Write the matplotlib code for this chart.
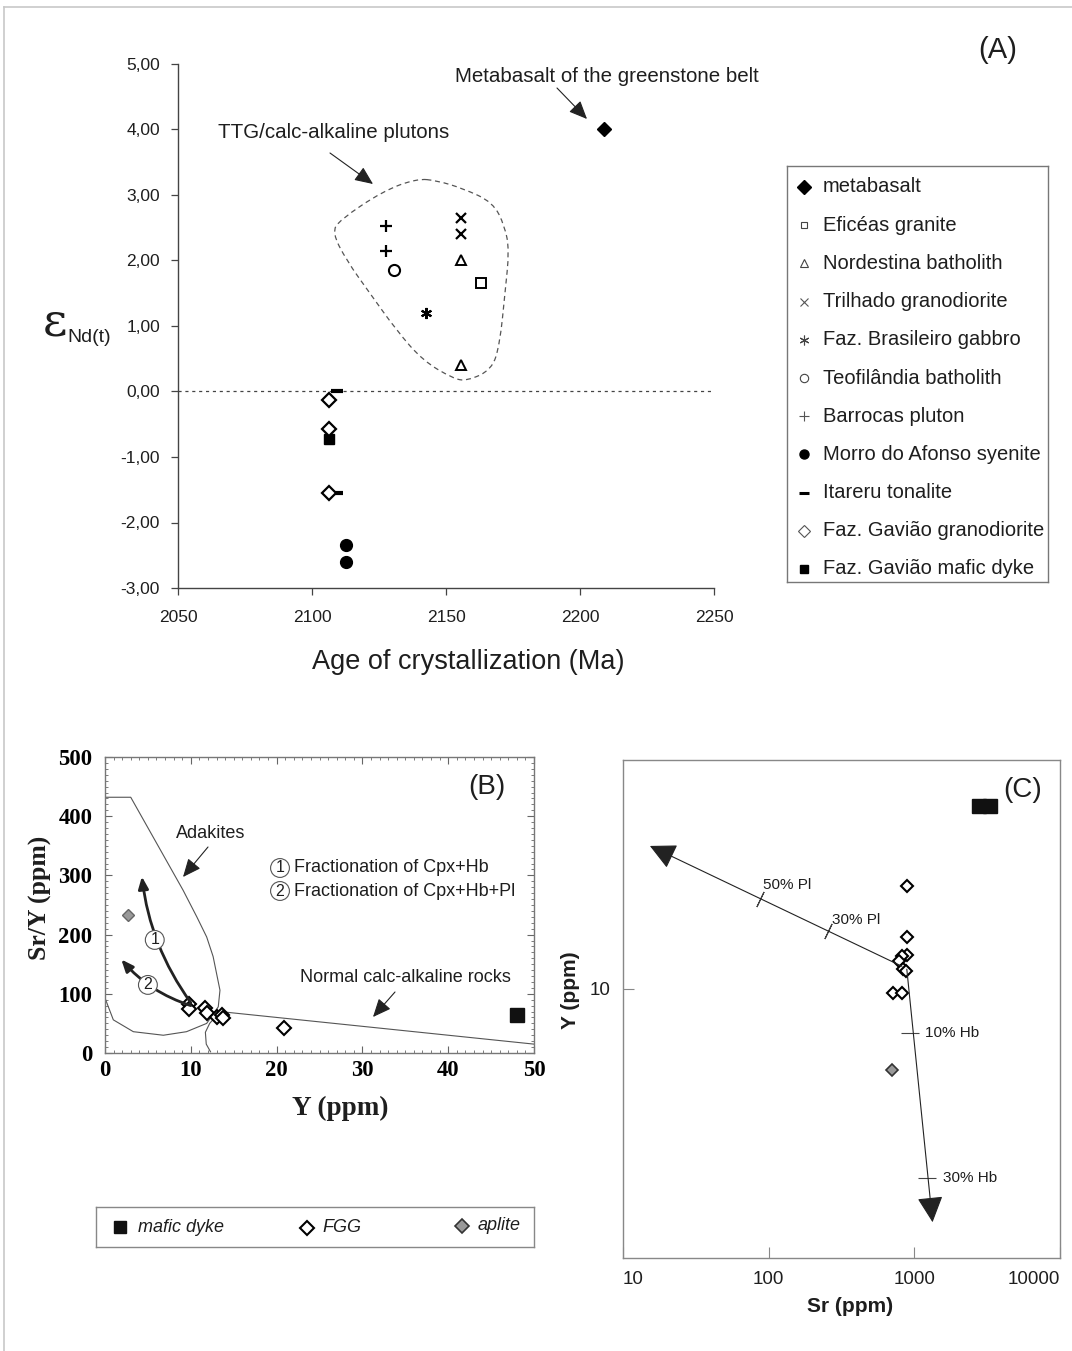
import matplotlib
matplotlib.use('Agg')
import matplotlib.pyplot as plt
from matplotlib.patches import PathPatch
from matplotlib.path import Path
from matplotlib.lines import Line2D
from matplotlib.ticker import FixedLocator, MultipleLocator, FuncFormatter, NullLocator

W, H = 1072, 1351
plt.rcParams['font.family'] = ['Liberation Sans', 'DejaVu Sans']
TXT = '#1e1e1e'

# ---------------- Panel A data: age (Ma) vs eps Nd(t) ----------------
metabasalt_age = [2209.0]; metabasalt_eps = [4.00]
eficeas_age = [2163.0]; eficeas_eps = [1.65]
nordestina_age = [2155.5, 2155.5]; nordestina_eps = [2.00, 0.40]
trilhado_age = [2155.5, 2155.5]; trilhado_eps = [2.65, 2.40]
brasileiro_age = [2142.5]; brasileiro_eps = [1.20]
teofilandia_age = [2130.5]; teofilandia_eps = [1.85]
barrocas_age = [2127.5, 2127.5]; barrocas_eps = [2.53, 2.14]
morro_age = [2112.5, 2112.5]; morro_eps = [-2.35, -2.60]
itareru_age = [2109.5, 2109.5]; itareru_eps = [0.00, -1.55]
fgg_age = [2106.5, 2106.5, 2106.5]; fgg_eps = [-0.13, -0.58, -1.55]
dyke_age = [2106.5]; dyke_eps = [-0.72]

env_age = [2139.1, 2126.5, 2110.4, 2107.5, 2112.9, 2121.6, 2131.6, 2141.4, 2152.6,
           2157.7, 2167.1, 2170.1, 2172.0, 2173.6, 2172.0, 2167.5, 2156.3, 2146.6]
env_eps = [3.25, 3.06, 2.62, 2.43, 2.00, 1.50, 0.93, 0.47, 0.20,
           0.16, 0.33, 0.73, 1.50, 2.15, 2.52, 2.89, 3.10, 3.22]

legendA_labels = ['metabasalt', 'Eficéas granite', 'Nordestina batholith', 'Trilhado granodiorite',
                  'Faz. Brasileiro gabbro', 'Teofilândia batholith', 'Barrocas pluton',
                  'Morro do Afonso syenite', 'Itareru tonalite', 'Faz. Gavião granodiorite',
                  'Faz. Gavião mafic dyke']

# ---------------- Panel B data: Y vs Sr/Y ----------------
B_dyke_Y = [48.0]; B_dyke_SrY = [64.0]
B_fgg_Y = [9.8, 9.75, 11.7, 11.85, 13.0, 13.6, 13.8, 20.9]
B_fgg_SrY = [83.0, 74.0, 75.5, 67.0, 61.5, 64.0, 58.5, 43.0]
B_aplite_Y = [2.7]; B_aplite_SrY = [233.0]
adakite_Y = [0, 3.0, 9.1, 10.7, 11.85, 12.6, 13.4, 13.2, 11.85, 9.5, 6.8, 3.3, 0.97, 0.1, 0]
adakite_SrY = [432, 432, 275, 230, 196, 163, 106, 78, 50, 36, 30, 36, 56, 89, 93]
normal_Y = [50, 13.4, 12.2, 11.7, 11.8, 12.3]
normal_SrY = [15, 70, 50, 35, 15, 2]
frac1_Y = [10.0, 4.3]; frac1_SrY = [85, 298]
frac2_Y = [10.0, 1.9]; frac2_SrY = [80, 158]

# ---------------- Panel C data: Sr vs Y (log-log) ----------------
C_fgg_Sr = [894, 894, 894, 819, 787, 832, 875, 716, 819]
C_fgg_Y = [20.6, 14.35, 12.7, 12.6, 12.1, 11.45, 11.3, 9.67, 9.67]
C_aplite_Sr = [699]; C_aplite_Y = [5.65]
C_dyke_Sr = [2780, 3300]; C_dyke_Y = [36.2, 36.2]
vec_start = (822, 11.7)
pl_end = (15.3, 27.3)
hb_end = (1334, 1.93)
pl_marks_Sr = [87.2, 256.6]; pl_marks_Y = [18.8, 15.0]; pl_marks_lab = ['50% Pl', '30% Pl']
hb_marks_Sr = [933, 1227]; hb_marks_Y = [7.32, 2.64]; hb_marks_lab = ['10% Hb', '30% Hb']


def fx(x):
    return x / W


def fy(y):
    return 1 - y / H


def ax_rect(x0, y0, x1, y1):
    return [fx(x0), fy(y1), (x1 - x0) / W, (y1 - y0) / H]


def smooth_closed_path(xs, ys):
    """Closed quadratic B-spline path using the given points as control points."""
    pts = list(zip(xs, ys))
    n = len(pts)
    mids = [((pts[i][0] + pts[(i + 1) % n][0]) / 2, (pts[i][1] + pts[(i + 1) % n][1]) / 2)
            for i in range(n)]
    verts = [mids[-1]]
    codes = [Path.MOVETO]
    for i in range(n):
        verts += [pts[i], mids[i]]
        codes += [Path.CURVE3, Path.CURVE3]
    return Path(verts, codes)


fig = plt.figure(figsize=(W / 100, H / 100), dpi=100)
fig.patch.set_facecolor('white')

# outer frame lines (top & left)
fig.add_artist(Line2D([fx(3.5), fx(3.5)], [0, fy(7)], color='#c8c8c8', lw=1.2))
fig.add_artist(Line2D([fx(3.5), 1], [fy(7), fy(7)], color='#c8c8c8', lw=1.2))

# ============================ Panel A ============================
axA = fig.add_axes(ax_rect(178, 64, 714, 588))
axA.set_xlim(2050, 2250)
axA.set_ylim(-3, 5)
for s in ['top', 'right']:
    axA.spines[s].set_visible(False)
for s in ['left', 'bottom']:
    axA.spines[s].set_color('#444')
    axA.spines[s].set_linewidth(1.0)
axA.xaxis.set_major_locator(FixedLocator([2050, 2100, 2150, 2200, 2250]))
axA.yaxis.set_major_locator(MultipleLocator(1))
axA.yaxis.set_major_formatter(FuncFormatter(lambda v, p: f"{v:.2f}".replace('.', ',')))
axA.tick_params(axis='both', direction='out', length=5, width=0.9, color='#444',
                labelsize=12.5, labelcolor=TXT)
axA.tick_params(axis='x', pad=11)
axA.tick_params(axis='y', pad=8)
axA.axhline(0, color='#444', lw=0.9, ls=(0, (2.5, 3)))
axA.add_patch(PathPatch(smooth_closed_path(env_age, env_eps), fill=False,
                        ec='#555', lw=0.9, ls=(0, (4, 3))))

k = dict(ls='none', color='k')
axA.plot(metabasalt_age, metabasalt_eps, marker='D', ms=7.5, mfc='k', mec='k', **k)
axA.plot(eficeas_age, eficeas_eps, marker='s', ms=6.5, mfc='white', mec='k', mew=1.4, **k)
axA.plot(nordestina_age, nordestina_eps, marker='^', ms=7, mfc='white', mec='k', mew=1.4, **k)
axA.plot(trilhado_age, trilhado_eps, marker='x', ms=7, mec='k', mew=1.6, **k)
axA.plot(brasileiro_age, brasileiro_eps, marker=(6, 2, 0), ms=8, mec='k', mew=1.5, **k)
axA.plot(teofilandia_age, teofilandia_eps, marker='o', ms=8, mfc='white', mec='k', mew=1.5, **k)
axA.plot(barrocas_age, barrocas_eps, marker='+', ms=8, mec='k', mew=1.6, **k)
axA.plot(morro_age, morro_eps, marker='o', ms=8.5, mfc='k', mec='k', **k)
axA.plot(itareru_age, itareru_eps, marker='_', ms=9, mec='k', mew=3, **k)
axA.plot(dyke_age, dyke_eps, marker='s', ms=6.5, mfc='k', mec='k', **k)
axA.plot(fgg_age, fgg_eps, marker='D', ms=7, mfc='white', mec='k', mew=1.6, **k)

arrow_kw = dict(arrowstyle='-|>,head_length=0.8,head_width=0.35', color='#222', lw=0.8,
                mutation_scale=14, shrinkA=0, shrinkB=0)
axA.annotate('', xy=(373, H - 184), xytext=(330, H - 153), xycoords='figure pixels',
             textcoords='figure pixels', arrowprops=arrow_kw)
axA.annotate('', xy=(587, H - 119), xytext=(557, H - 88), xycoords='figure pixels',
             textcoords='figure pixels', arrowprops=arrow_kw)
fig.text(fx(334), fy(132), 'TTG/calc-alkaline plutons', ha='center', va='center', fontsize=14.8, color=TXT)
fig.text(fx(607), fy(76), 'Metabasalt of the greenstone belt', ha='center', va='center', fontsize=14.8, color=TXT)
fig.text(fx(998), fy(50), '(A)', ha='center', va='center', fontsize=21, color=TXT)
fig.text(fx(468), fy(662), 'Age of crystallization (Ma)', ha='center', va='center', fontsize=19.5, color=TXT)
fig.text(fx(55), fy(323), 'ε', ha='center', va='center', fontsize=34, color=TXT,
         family=['DejaVu Serif'])
fig.text(fx(67), fy(337), 'Nd(t)', ha='left', va='center', fontsize=14, color=TXT)

# legend A (manual box)
lax = fig.add_axes(ax_rect(787, 166, 1048, 582))
lax.set_xlim(787, 1048)
lax.set_ylim(582, 166)
lax.set_xticks([]); lax.set_yticks([])
for s in lax.spines.values():
    s.set_color('#777'); s.set_linewidth(1.0)
leg_styles = [
    dict(marker='D', ms=7, mfc='k', mec='k'),
    dict(marker='s', ms=5, mfc='white', mec='#444', mew=0.8),
    dict(marker='^', ms=6, mfc='white', mec='#444', mew=0.8),
    dict(marker='x', ms=6, mec='#555', mew=0.8),
    dict(marker=(6, 2, 0), ms=7, mec='#444', mew=0.8),
    dict(marker='o', ms=6, mfc='white', mec='#444', mew=0.8),
    dict(marker='+', ms=7, mec='#555', mew=0.8),
    dict(marker='o', ms=6.5, mfc='k', mec='k'),
    dict(marker='_', ms=7, mec='k', mew=2.2),
    dict(marker='D', ms=6.5, mfc='white', mec='#555', mew=0.8),
    dict(marker='s', ms=6, mfc='k', mec='k'),
]
for i, (lab, st) in enumerate(zip(legendA_labels, leg_styles)):
    yy = 187 + i * 38.2
    lax.plot([804], [yy], ls='none', **st)
    lax.text(823, yy, lab, ha='left', va='center', fontsize=14.5, color=TXT)

# ============================ Panel B ============================
serif_b = dict(family=['Liberation Serif', 'DejaVu Serif'], weight='bold')
axB = fig.add_axes(ax_rect(105, 757, 534, 1053))
axB.set_xlim(0, 50)
axB.set_ylim(0, 500)
for s in axB.spines.values():
    s.set_color('#777'); s.set_linewidth(1.0)
axB.xaxis.set_major_locator(MultipleLocator(10))
axB.xaxis.set_minor_locator(MultipleLocator(1))
axB.yaxis.set_major_locator(MultipleLocator(100))
axB.yaxis.set_minor_locator(MultipleLocator(10))
axB.tick_params(which='both', direction='in', top=True, right=True, color='#666')
axB.tick_params(which='major', length=5, width=0.8)
axB.tick_params(which='minor', length=2.5, width=0.6)
for lbl in axB.get_xticklabels() + axB.get_yticklabels():
    lbl.set_fontproperties({'family': 'Liberation Serif', 'weight': 'bold', 'size': 16.3})
axB.tick_params(axis='x', pad=5)
axB.tick_params(axis='y', pad=9)

axB.plot(adakite_Y, adakite_SrY, color='#555', lw=0.8)
axB.plot(normal_Y, normal_SrY, color='#555', lw=0.8)
axB.annotate('', xy=(frac1_Y[1], frac1_SrY[1]), xytext=(frac1_Y[0], frac1_SrY[0]),
             arrowprops=dict(arrowstyle='-|>,head_length=0.6,head_width=0.25', color='#222',
                             lw=2.0, mutation_scale=12, connectionstyle='arc3,rad=-0.13',
                             shrinkA=0, shrinkB=0))
axB.annotate('', xy=(frac2_Y[1], frac2_SrY[1]), xytext=(frac2_Y[0], frac2_SrY[0]),
             arrowprops=dict(arrowstyle='-|>,head_length=0.6,head_width=0.25', color='#222',
                             lw=2.0, mutation_scale=12, connectionstyle='arc3,rad=-0.14',
                             shrinkA=0, shrinkB=0))
circ = dict(boxstyle='circle,pad=0.12', fc='white', ec='#555', lw=0.8)
axB.text(5.8, 191, '1', ha='center', va='center', fontsize=11.5, color=TXT, bbox=circ)
axB.text(5.0, 115, '2', ha='center', va='center', fontsize=11.5, color=TXT, bbox=circ)

axB.plot(B_dyke_Y, B_dyke_SrY, ls='none', marker='s', ms=10, mfc='#111', mec='#111')
axB.plot(B_aplite_Y, B_aplite_SrY, ls='none', marker='D', ms=6, mfc='#999', mec='#666', mew=1)
axB.plot(B_fgg_Y, B_fgg_SrY, ls='none', marker='D', ms=7, mfc='white', mec='k', mew=1.5)

axB.annotate('', xy=(183, H - 877), xytext=(208, H - 847), xycoords='figure pixels',
             textcoords='figure pixels', arrowprops=arrow_kw)
axB.annotate('', xy=(373, H - 1017), xytext=(395, H - 992), xycoords='figure pixels',
             textcoords='figure pixels', arrowprops=arrow_kw)
fig.text(fx(211), fy(833), 'Adakites', ha='center', va='center', fontsize=13, color=TXT)
fig.text(fx(405), fy(978), 'Normal calc-alkaline rocks', ha='center', va='center', fontsize=13, color=TXT)
fig.text(fx(280), fy(868), '1', ha='center', va='center', fontsize=11.5, color=TXT, bbox=circ)
fig.text(fx(294), fy(868), 'Fractionation of Cpx+Hb', ha='left', va='center', fontsize=13, color=TXT)
fig.text(fx(280), fy(891), '2', ha='center', va='center', fontsize=11.5, color=TXT, bbox=circ)
fig.text(fx(294), fy(891), 'Fractionation of Cpx+Hb+Pl', ha='left', va='center', fontsize=13, color=TXT)
fig.text(fx(487), fy(787), '(B)', ha='center', va='center', fontsize=20, color=TXT)
fig.text(fx(40), fy(898), 'Sr/Y (ppm)', ha='center', va='center', rotation=90, fontsize=18.5,
         color=TXT, **serif_b)
fig.text(fx(340), fy(1108), 'Y (ppm)', ha='center', va='center', fontsize=19.5, color=TXT, **serif_b)

# legend B box
lbx = fig.add_axes(ax_rect(96, 1207, 534, 1247))
lbx.set_xlim(96, 534); lbx.set_ylim(1247, 1207)
lbx.set_xticks([]); lbx.set_yticks([])
for s in lbx.spines.values():
    s.set_color('#888'); s.set_linewidth(1.0)
lbx.plot([120], [1227], ls='none', marker='s', ms=9, mfc='#111', mec='#111')
lbx.text(138, 1227, 'mafic dyke', ha='left', va='center', fontsize=13, style='italic', color=TXT)
lbx.plot([307], [1228], ls='none', marker='D', ms=7, mfc='white', mec='k', mew=1.5)
lbx.text(322, 1228, 'FGG', ha='left', va='center', fontsize=13, style='italic', color=TXT)
lbx.plot([462], [1226], ls='none', marker='D', ms=7, mfc='#999', mec='#333', mew=1.2)
lbx.text(478, 1226, 'aplite', ha='left', va='center', fontsize=13, style='italic', color=TXT)

# ============================ Panel C ============================
axC = fig.add_axes(ax_rect(623, 760, 1060, 1258))
axC.set_xscale('log'); axC.set_yscale('log')
axC.set_xlim(10, 10000)
axC.set_ylim(1.5, 50)
for s in axC.spines.values():
    s.set_color('#888'); s.set_linewidth(1.0)
axC.xaxis.set_major_locator(FixedLocator([10, 100, 1000, 10000]))
axC.xaxis.set_minor_locator(NullLocator())
axC.yaxis.set_major_locator(FixedLocator([10]))
axC.yaxis.set_minor_locator(NullLocator())
axC.xaxis.set_major_formatter(FuncFormatter(lambda v, p: f"{v:g}"))
axC.yaxis.set_major_formatter(FuncFormatter(lambda v, p: f"{v:g}"))
axC.tick_params(which='both', direction='in', length=8, width=0.8, color='#888',
                labelsize=13.5, labelcolor=TXT)
axC.tick_params(axis='x', pad=9)
axC.tick_params(axis='y', pad=9)

vec_kw = dict(arrowstyle='-|>,head_length=0.9,head_width=0.45', color='#222', lw=0.8,
              mutation_scale=18, shrinkA=0, shrinkB=0)
axC.annotate('', xy=pl_end, xytext=vec_start, arrowprops=vec_kw)
axC.annotate('', xy=hb_end, xytext=(vec_start[0] * 1.08, vec_start[1] * 0.98), arrowprops=vec_kw)
axC.plot(pl_marks_Sr, pl_marks_Y, ls='none', marker=(2, 2, -25.5), ms=12, mec='#444', mew=0.8)
axC.plot(hb_marks_Sr, hb_marks_Y, ls='none', marker='_', ms=13, mec='#444', mew=0.8)
pl_offsets = [(2, 10), (3, 8)]
for sx, sy, lab, off in zip(pl_marks_Sr, pl_marks_Y, pl_marks_lab, pl_offsets):
    axC.annotate(lab, xy=(sx, sy), xytext=off, textcoords='offset points',
                 ha='left', va='center', fontsize=11, color=TXT)
for sx, sy, lab in zip(hb_marks_Sr, hb_marks_Y, hb_marks_lab):
    axC.annotate(lab, xy=(sx, sy), xytext=(11, 0), textcoords='offset points',
                 ha='left', va='center', fontsize=11, color=TXT)

axC.plot(C_dyke_Sr, C_dyke_Y, ls='none', marker='s', ms=9.5, mfc='#111', mec='#111')
axC.plot(C_aplite_Sr, C_aplite_Y, ls='none', marker='D', ms=6, mfc='#999', mec='#333', mew=1.2)
axC.plot(C_fgg_Sr, C_fgg_Y, ls='none', marker='D', ms=6.5, mfc='white', mec='k', mew=1.5)

fig.canvas.draw()
xl = axC.get_xticklabels()
xl[0].set_ha('left')
xl[-1].set_ha('right')

fig.text(fx(1023), fy(790), '(C)', ha='center', va='center', fontsize=20, color=TXT)
fig.text(fx(850), fy(1307), 'Sr (ppm)', ha='center', va='center', fontsize=15, weight='bold', color=TXT)
fig.text(fx(571), fy(990), 'Y (ppm)', ha='center', va='center', fontsize=15, weight='bold',
         rotation=90, color=TXT)

fig.savefig('out.png', dpi=100, facecolor='white')
